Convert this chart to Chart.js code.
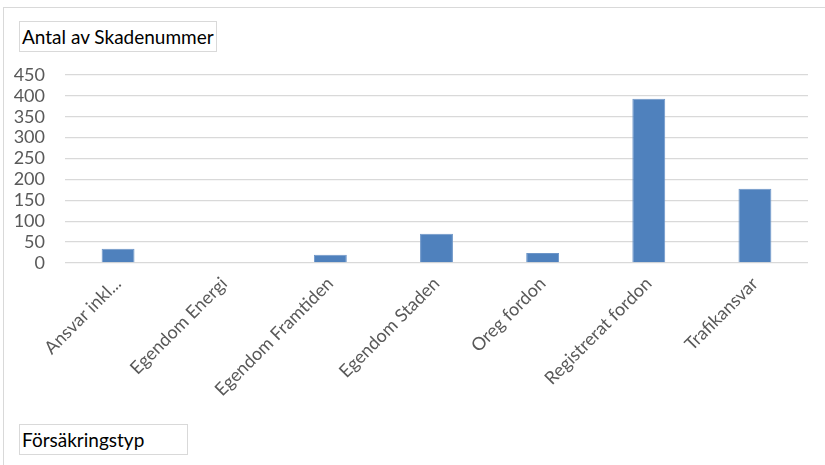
<!DOCTYPE html>
<html>
<head>
<meta charset="utf-8">
<script src="https://cdn.jsdelivr.net/npm/chart.js@4"></script>
<style>
  html, body { margin: 0; padding: 0; background: #fff; }
  #wrap { position: relative; width: 825px; height: 465px; overflow: hidden; }
  #frame { position: absolute; left: 3px; top: 7px; width: 840px; height: 480px;
           border: 1.5px solid #d9d9d9; box-sizing: border-box; }
  .tag { position: absolute; border: 1.5px solid #d9d9d9; box-sizing: border-box;
         font-family: Lato, "Open Sans", sans-serif; color: #000; background: #fff;
         padding-left: 2px; white-space: nowrap; }
  #valTag { left: 19px; top: 21px; width: 198px; height: 31px; font-size: 19px; line-height: 29px; }
  #fieldTag { left: 19px; top: 424px; width: 169px; height: 31px; font-size: 19px; line-height: 29px; }
  canvas { position: absolute; left: 0; top: 0; }
</style>
</head>
<body>
<div id="wrap">
  <div id="frame"></div>
  <canvas id="myBarChart" width="825" height="465"></canvas>
  <div class="tag" id="valTag">Antal av Skadenummer</div>
  <div class="tag" id="fieldTag">Försäkringstyp</div>
</div>
<script>
/*##########
  Chart data
  ##########*/
const categories = ['Ansvar inkl...', 'Egendom Energi', 'Egendom Framtiden', 'Egendom Staden',
                    'Oreg fordon', 'Registrerat fordon', 'Trafikansvar'];
const counts = [34, 0, 20, 70, 24, 393, 178];
const yTicks = [0, 50, 100, 150, 200, 250, 300, 350, 400, 450];

const data = {
  labels: categories,
  datasets: [{
    label: 'Antal av Skadenummer',
    data: counts,
    backgroundColor: '#4f81bd',
    borderColor: '#6d96c8',
    borderWidth: 1,
    barPercentage: 0.31,
    categoryPercentage: 1
  }]
};

/* Config */
const config = {
  type: 'bar',
  data: data,
  options: {
    responsive: false,
    animation: false,
    layout: {
      padding: {top: 75, right: 17, left: 0, bottom: 0}
    },
    plugins: {
      legend: {display: false},
      tooltip: {enabled: false}
    },
    scales: {
      x: {
        grid: {display: false},
        border: {display: false},
        ticks: {
          color: '#595959',
          font: {family: 'Lato', size: 18},
          minRotation: 45,
          maxRotation: 45,
          autoSkip: false,
          padding: 2
        },
        afterFit: function(scale) { scale.height = 202; }
      },
      y: {
        min: yTicks[0],
        max: yTicks[yTicks.length - 1],
        afterBuildTicks: function(scale) {
          scale.ticks = yTicks.map(v => ({value: v}));
        },
        grid: {color: '#d9d9d9', lineWidth: 1.3, drawTicks: false},
        border: {display: false},
        ticks: {
          color: '#595959',
          font: {family: 'Lato', size: 18},
          autoSkip: false,
          padding: 20
        },
        afterFit: function(scale) { scale.width = 65; }
      }
    }
  }
};

/* Render chart */
var myBarChart = new Chart(
  document.getElementById('myBarChart'),
  config,
);
</script>
</body>
</html>
